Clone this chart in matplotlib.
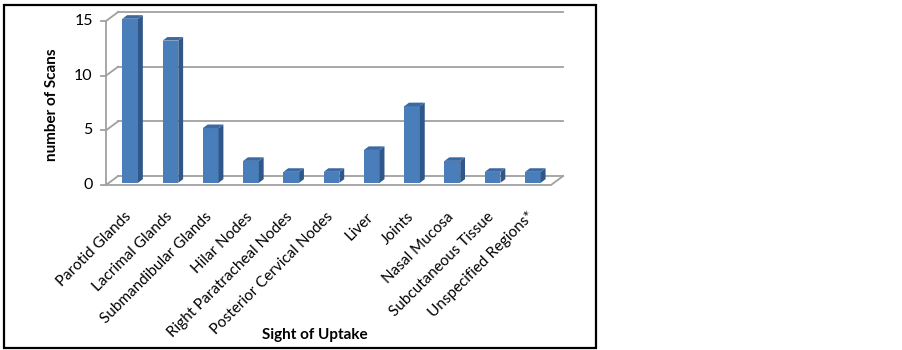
import matplotlib
matplotlib.use("Agg")
import matplotlib.pyplot as plt
from matplotlib.patches import Polygon, Rectangle

categories = ["Parotid Glands", "Lacrimal Glands", "Submandibular Glands", "Hilar Nodes",
              "Right Paratracheal Nodes", "Posterior Cervical Nodes", "Liver", "Joints",
              "Nasal Mucosa", "Subcutaneous Tissue", "Unspecified Regions*"]
values = [15, 13, 5, 2, 1, 1, 3, 7, 2, 1, 1]
yticks = [0, 5, 10, 15]
ylabel = "number of Scans"
xlabel = "Sight of Uptake"

plt.rcParams['font.family'] = ['Lato', 'DejaVu Sans']

W, H = 903, 350
fig = plt.figure(figsize=(W / 100, H / 100), dpi=100)

# outer border
fig.patches.append(Rectangle((4 / W, 1 - 348 / H), 592 / W, 343 / H, transform=fig.transFigure,
                             fill=False, edgecolor='black', linewidth=1.6))

ax = fig.add_axes([106 / W, (H - 185) / H, 445 / W, 164 / H])
n = len(categories)
x_lo, x_hi = -0.525, n - 1 + 0.525
ax.set_xlim(x_lo, x_hi)
ax.set_ylim(0, 15)
ax.axis('off')

DX, DY = 0.3, 0.82       # depth offset (data units)
f, bd, w = 0.25, 0.4, 0.39  # bar depth position, bar depth, bar width
gc, glw = '#a0a0a0', 1.3

# back wall gridlines & left wall diagonals
for t in yticks:
    ax.plot([x_lo + DX, x_hi + DX], [t + DY, t + DY], color=gc, lw=glw, clip_on=False, zorder=1)
    ax.plot([x_lo, x_lo + DX], [t, t + DY], color=gc, lw=glw, clip_on=False, zorder=1)
    ax.plot([x_lo - 0.12, x_lo], [t, t], color=gc, lw=glw, clip_on=False, zorder=1)
    ax.text(x_lo - 0.33, t, str(t), ha='right', va='center', fontsize=11.5, clip_on=False)
# front axis line and floor
ax.plot([x_lo, x_lo], [0, yticks[-1]], color=gc, lw=glw, clip_on=False, zorder=1)
ax.plot([x_lo, x_hi, x_hi + DX], [0, 0, DY], color=gc, lw=glw, clip_on=False, zorder=1)

front_c, side_c, top_c = '#4a7ebb', '#30578a', '#3d69a2'
for i, v in enumerate(values):
    x0 = i - w / 2 + f * DX
    y0 = f * DY
    ddx, ddy = bd * DX, bd * DY
    ax.add_patch(Polygon([(x0, y0), (x0 + w, y0), (x0 + w, y0 + v), (x0, y0 + v)],
                         closed=True, facecolor=front_c, edgecolor='none', clip_on=False, zorder=3))
    ax.add_patch(Polygon([(x0 + w, y0), (x0 + w + ddx, y0 + ddy), (x0 + w + ddx, y0 + ddy + v),
                          (x0 + w, y0 + v)],
                         closed=True, facecolor=side_c, edgecolor='none', clip_on=False, zorder=3))
    ax.add_patch(Polygon([(x0, y0 + v), (x0 + w, y0 + v), (x0 + w + ddx, y0 + v + ddy),
                          (x0 + ddx, y0 + v + ddy)],
                         closed=True, facecolor=top_c, edgecolor='none', clip_on=False, zorder=3))
    ax.text(i + 0.06, -2.7, categories[i], rotation=45, rotation_mode='anchor',
            ha='right', va='center', fontsize=11, clip_on=False)

fig.text(52 / W, 1 - 105 / H, ylabel, rotation=90, ha='center', va='center',
         fontsize=11, fontweight='bold')
fig.text(315 / W, 1 - 335 / H, xlabel, ha='center', va='center',
         fontsize=11, fontweight='bold')

fig.savefig('out.png', dpi=100, facecolor='white')
